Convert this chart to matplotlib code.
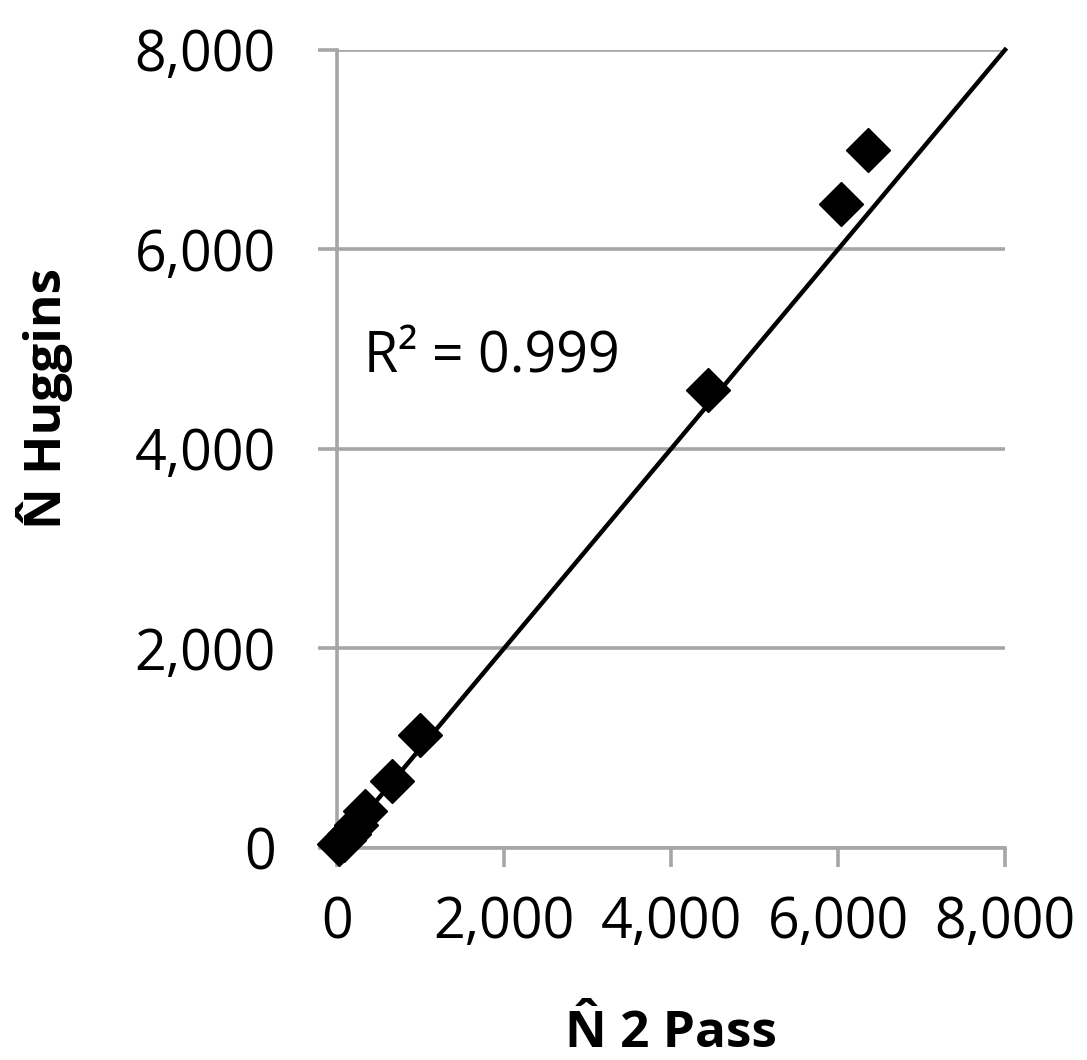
import matplotlib
matplotlib.use("Agg")
import matplotlib.pyplot as plt
import numpy as np

# Data
n_two_pass = [30, 90, 150, 230, 335, 660, 990, 4440, 6040, 6360]
n_huggins = [40, 80, 140, 230, 370, 670, 1130, 4590, 6450, 7000]
trend_slope = 1.0
trend_intercept = 0.0
trend_x_range = [0, 8000]
ticks = [0, 2000, 4000, 6000, 8000]
tick_labels = ["0", "2,000", "4,000", "6,000", "8,000"]
r2_text = "R² = 0.999"
x_label = "N 2 Pass"
y_label = "N Huggins"
hat_char = "\u02c6"

plt.rcParams['font.family'] = ['Open Sans', 'DejaVu Sans']
grey = "#a6a6a6"
W_PX, H_PX = 1087, 1060

fig = plt.figure(figsize=(10.87, 10.60), dpi=100)
ax = fig.add_axes([0.310, 0.200, 0.6146, 0.7530])

ax.set_xlim(0, 8000)
ax.set_ylim(0, 8000)

ax.yaxis.grid(True, color=grey, linewidth=2.6)
ax.xaxis.grid(False)
ax.set_axisbelow(True)

for s in ["top", "right"]:
    ax.spines[s].set_visible(False)
for s in ["left", "bottom"]:
    ax.spines[s].set_color(grey)
    ax.spines[s].set_linewidth(2.6)

ax.set_xticks(ticks)
ax.set_xticklabels(tick_labels)
ax.set_yticks(ticks)
ax.set_yticklabels(tick_labels)
ax.tick_params(axis="both", colors=grey, length=14, width=2.6, labelsize=40,
               labelcolor="black", direction="out")
ax.tick_params(axis="x", pad=20)
ax.tick_params(axis="y", pad=30)

tx = np.array(trend_x_range, dtype=float)
ax.plot(tx, trend_slope * tx + trend_intercept, color="black", linewidth=3.2,
        zorder=3, clip_on=False)

ax.plot(n_two_pass, n_huggins, linestyle="none", marker="D", markersize=22,
        color="black", zorder=4, clip_on=False)

ax.text(320, 4770, r2_text, fontsize=40, ha="left", va="baseline")

# axis labels (with a circumflex hat over the N)
lab_fs = 37
em_px = lab_fs * 100 / 72.0
raise_px = 0.20 * em_px

fig.canvas.draw()
renderer = fig.canvas.get_renderer()

def text_width(s):
    t = fig.text(0, 0, s, fontsize=lab_fs, fontweight="bold")
    w = t.get_window_extent(renderer).width
    t.remove()
    return w

# x label: baseline anchored
xl_x, xl_y = 671.0, H_PX - 1047.0
fig.text(xl_x / W_PX, xl_y / H_PX, x_label, fontsize=lab_fs, fontweight="bold",
         ha="center", va="baseline", rotation_mode="anchor")
Wx = text_width(x_label)
wN = text_width("N")
fig.text((xl_x - Wx / 2 + wN / 2) / W_PX, (xl_y + raise_px) / H_PX, hat_char,
         fontsize=lab_fs, fontweight="bold", ha="center", va="baseline",
         rotation_mode="anchor")

# y label: rotated, baseline on the right
yl_x, yl_y = 61.0, H_PX - 398.0
fig.text(yl_x / W_PX, yl_y / H_PX, y_label, fontsize=lab_fs, fontweight="bold",
         ha="center", va="baseline", rotation=90, rotation_mode="anchor")
Wy = text_width(y_label)
fig.text((yl_x - raise_px) / W_PX, (yl_y - Wy / 2 + wN / 2) / H_PX, hat_char,
         fontsize=lab_fs, fontweight="bold", ha="center", va="baseline",
         rotation=90, rotation_mode="anchor")

fig.savefig("out.png", dpi=100)
